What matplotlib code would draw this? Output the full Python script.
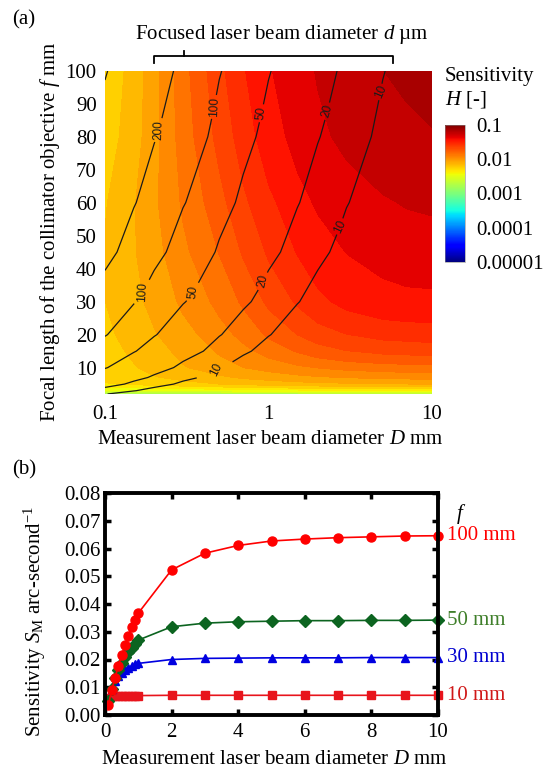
import numpy as np
import matplotlib
matplotlib.use("Agg")
import matplotlib.pyplot as plt
from matplotlib.colors import LogNorm
from matplotlib.lines import Line2D
from matplotlib.cm import ScalarMappable
from matplotlib.ticker import NullLocator

plt.rcParams["font.family"] = ["Liberation Serif", "DejaVu Serif"]
plt.rcParams["mathtext.fontset"] = "custom"
plt.rcParams["mathtext.rm"] = "Liberation Serif"
plt.rcParams["mathtext.it"] = "Liberation Serif:italic"

# ---- panel (b): sensitivity S_M (arc-second^-1) vs D for each focal length
D_mm = [0.1, 0.2, 0.3, 0.4, 0.5, 0.6, 0.7, 0.8, 0.9, 1.0,
        2, 3, 4, 5, 6, 7, 8, 9, 10]
S_10 = [0.0060, 0.0067, 0.0069, 0.0070, 0.0070, 0.0070, 0.0070, 0.0070, 0.0070, 0.0070,
        0.0071, 0.0071, 0.0071, 0.0071, 0.0071, 0.0071, 0.0071, 0.0071, 0.0071]
S_30 = [0.0055, 0.0095, 0.0122, 0.0140, 0.0153, 0.0163, 0.0171, 0.0177, 0.0182, 0.0186,
        0.0200, 0.0204, 0.0205, 0.0206, 0.0206, 0.0206, 0.0207, 0.0207, 0.0207]
S_50 = [0.0050, 0.0095, 0.0132, 0.0163, 0.0188, 0.0210, 0.0228, 0.0243, 0.0257, 0.0270,
        0.0318, 0.0331, 0.0336, 0.0338, 0.0340, 0.0340, 0.0341, 0.0341, 0.0342]
S_100 = [0.0035, 0.0090, 0.0133, 0.0177, 0.0215, 0.0252, 0.0286, 0.0318, 0.0343, 0.0367,
         0.0523, 0.0583, 0.0611, 0.0627, 0.0634, 0.0639, 0.0642, 0.0645, 0.0646]

# ---- panel (a): map grid
D_map = [0.1, 0.15, 0.2, 0.3, 0.5, 0.7, 1, 1.5, 2, 3, 5, 7, 10]
f_map = [2, 3, 5, 7, 10, 15, 20, 30, 45, 60, 80, 100]

# sensitivity H [-], one row per focal length
H_f2 = [0.0012, 0.0012, 0.0013, 0.0013, 0.0013, 0.0013, 0.0013, 0.0013, 0.0013, 0.0013, 0.0013, 0.0013, 0.0013]
H_f3 = [0.0030, 0.0030, 0.0031, 0.0032, 0.0033, 0.0034, 0.0035, 0.0036, 0.0036, 0.0037, 0.0037, 0.0038, 0.0038]
H_f5 = [0.0049, 0.0052, 0.0055, 0.0058, 0.0063, 0.0066, 0.0069, 0.0072, 0.0074, 0.0076, 0.0078, 0.0079, 0.0080]
H_f7 = [0.0054, 0.0058, 0.0062, 0.0068, 0.0076, 0.0082, 0.0087, 0.0093, 0.0097, 0.0101, 0.0104, 0.0106, 0.0107]
H_f10 = [0.0057, 0.0062, 0.0068, 0.0078, 0.0091, 0.0100, 0.0109, 0.0120, 0.0127, 0.0135, 0.0141, 0.0144, 0.0146]
H_f15 = [0.0058, 0.0066, 0.0073, 0.0085, 0.0103, 0.0118, 0.0138, 0.0162, 0.0180, 0.0198, 0.0212, 0.0216, 0.0220]
H_f20 = [0.0060, 0.0070, 0.0078, 0.0092, 0.0115, 0.0135, 0.0165, 0.0200, 0.0225, 0.0250, 0.0270, 0.0275, 0.0280]
H_f30 = [0.0063, 0.0075, 0.0085, 0.0105, 0.0135, 0.0165, 0.0210, 0.0260, 0.0300, 0.0340, 0.0370, 0.0380, 0.0380]
H_f45 = [0.0064, 0.0078, 0.0092, 0.0120, 0.0160, 0.0205, 0.0260, 0.0320, 0.0360, 0.0400, 0.0430, 0.0440, 0.0450]
H_f60 = [0.0062, 0.0078, 0.0096, 0.0130, 0.0185, 0.0240, 0.0300, 0.0370, 0.0410, 0.0450, 0.0490, 0.0510, 0.0520]
H_f80 = [0.0056, 0.0072, 0.0092, 0.0140, 0.0215, 0.0280, 0.0360, 0.0430, 0.0480, 0.0530, 0.0580, 0.0600, 0.0620]
H_f100 = [0.0052, 0.0070, 0.0091, 0.0145, 0.0236, 0.0310, 0.0390, 0.0460, 0.0510, 0.0570, 0.0630, 0.0660, 0.0700]
H_map = [H_f2, H_f3, H_f5, H_f7, H_f10, H_f15, H_f20, H_f30, H_f45, H_f60, H_f80, H_f100]

# focused beam diameter d (um) on the same grid
d_f2 = [10.3, 6.88, 5.16, 3.44, 2.06, 1.47, 1.03, 0.69, 0.52, 0.34, 0.21, 0.15, 0.10]
d_f3 = [15.5, 10.3, 7.74, 5.16, 3.10, 2.21, 1.55, 1.03, 0.77, 0.52, 0.31, 0.22, 0.15]
d_f5 = [25.8, 17.2, 12.9, 8.60, 5.16, 3.69, 2.58, 1.72, 1.29, 0.86, 0.52, 0.37, 0.26]
d_f7 = [36.1, 24.1, 18.1, 12.0, 7.22, 5.16, 3.61, 2.41, 1.81, 1.20, 0.72, 0.52, 0.36]
d_f10 = [51.6, 34.4, 25.8, 17.2, 10.3, 7.37, 5.16, 3.44, 2.58, 1.72, 1.03, 0.74, 0.52]
d_f15 = [77.4, 51.6, 38.7, 25.8, 15.5, 11.1, 7.74, 5.16, 3.87, 2.58, 1.55, 1.11, 0.77]
d_f20 = [103, 68.8, 51.6, 34.4, 20.6, 14.7, 10.3, 6.88, 5.16, 3.44, 2.06, 1.47, 1.03]
d_f30 = [155, 103, 77.4, 51.6, 31.0, 22.1, 15.5, 10.3, 7.74, 5.16, 3.10, 2.21, 1.55]
d_f45 = [232, 155, 116, 77.4, 46.4, 33.2, 23.2, 15.5, 11.6, 7.74, 4.64, 3.32, 2.32]
d_f60 = [310, 206, 155, 103, 61.9, 44.2, 31.0, 20.6, 15.5, 10.3, 6.19, 4.42, 3.10]
d_f80 = [413, 275, 206, 138, 82.6, 59.0, 41.3, 27.5, 20.6, 13.8, 8.26, 5.90, 4.13]
d_f100 = [516, 344, 258, 172, 103, 73.7, 51.6, 34.4, 25.8, 17.2, 10.3, 7.37, 5.16]
d_map = [d_f2, d_f3, d_f5, d_f7, d_f10, d_f15, d_f20, d_f30, d_f45, d_f60, d_f80, d_f100]
d_levels = [10, 20, 50, 100, 200, 500]

cbar_ticks = [1e-5, 1e-4, 1e-3, 1e-2, 1e-1]
cbar_labels = ["0.00001", "0.0001", "0.001", "0.01", "0.1"]

W, H = 547, 770
fig = plt.figure(figsize=(W / 100, H / 100), dpi=100)


def fx(px):
    return px / W


def fy(py):
    return 1 - py / H


# ---------------- panel (a) ----------------
ax1 = fig.add_axes([fx(105), fy(394), fx(432) - fx(105), fy(70.7) - fy(394)])
norm = LogNorm(vmin=1e-5, vmax=1e-1)
ax1.contourf(D_map, f_map, np.array(H_map), levels=np.logspace(-5, -1, 41),
             norm=norm, cmap="jet")
cs = ax1.contour(D_map, f_map, np.log10(np.array(d_map)), levels=np.log10(d_levels),
                 colors="#1a1a1a", linewidths=0.9)
label_pos = [(0.228, 82), (0.51, 89), (1.0, 87), (2.55, 87), (5.2, 92),
             (0.195, 33), (0.36, 33), (1.0, 36), (2.9, 52), (0.55, 9)]
labels = ax1.clabel(cs, inline=True, fontsize=8.5, manual=label_pos,
                    fmt=lambda v: f"{10 ** v:.0f}", inline_spacing=3)
for t in labels:
    t.set_fontfamily("Liberation Sans")

ax1.set_xscale("log")
ax1.set_xlim(0.1, 10)
ax1.set_ylim(2, 100)
ax1.set_xticks([0.1, 1, 10])
ax1.set_xticklabels(["0.1", "1", "10"])
ax1.xaxis.set_minor_locator(NullLocator())
ax1.set_yticks([10, 20, 30, 40, 50, 60, 70, 80, 90, 100])
ax1.tick_params(length=0, labelsize=15, pad=6)
ax1.tick_params(axis="x", pad=8)
for s in ax1.spines.values():
    s.set_visible(False)
ax1.set_xlabel("Measurement laser beam diameter $D$ mm", fontsize=15)
ax1.set_ylabel("Focal length of the collimator objective $f$ mm", fontsize=15)
ax1.xaxis.set_label_coords(0.505, -0.111)
ax1.yaxis.set_label_coords(-0.13, 0.5)

cax = fig.add_axes([fx(445), fy(262), fx(465) - fx(445), fy(125) - fy(262)])
cb = fig.colorbar(ScalarMappable(norm=norm, cmap="jet"), cax=cax)
cb.set_ticks(cbar_ticks)
cb.set_ticklabels(cbar_labels)
cax.yaxis.set_minor_locator(NullLocator())
cax.tick_params(length=0, labelsize=15, pad=8)
cb.outline.set_linewidth(0.4)
cb.outline.set_edgecolor("#888888")
fig.text(fx(445), fy(77), "Sensitivity", fontsize=15, va="center", ha="left")
fig.text(fx(445), fy(99), "$H$ [-]", fontsize=15, va="center", ha="left")

fig.text(fx(282), fy(35), "Focused laser beam diameter $d$ µm", fontsize=15,
         ha="center", va="center")
bx = [fx(154), fx(154), fx(393), fx(393)]
by = [fy(63), fy(56), fy(56), fy(63)]
fig.add_artist(Line2D(bx, by, color="k", lw=1.3, transform=fig.transFigure))
fig.add_artist(Line2D([fx(184), fx(184)], [fy(56), fy(51)], color="k", lw=1.3,
                      transform=fig.transFigure))
fig.text(fx(12), fy(20), "(a)", fontsize=15, ha="left", va="center")

# ---------------- panel (b) ----------------
ax2 = fig.add_axes([fx(105), fy(715), fx(438) - fx(105), fy(493) - fy(715)])
series = [
    (S_10, "s", "#e8141c", 5.5, "10 mm", "#d01818"),
    (S_30, "^", "#0000e0", 6.0, "30 mm", "#0000d0"),
    (S_50, "D", "#0c6420", 6.0, "50 mm", "#3f7f2a"),
    (S_100, "o", "#ff0000", 6.5, "100 mm", "#ff0000"),
]
for vals, mk, col, ms, name, lcol in series:
    ax2.plot(D_mm, vals, marker=mk, color=col, ms=ms, lw=1.2, clip_on=False)
    ax2.text(1.027, vals[-1], name, color=lcol, fontsize=15, va="center", ha="left",
             transform=ax2.get_yaxis_transform())
ax2.text(1.07, 0.0725, "$f$", fontsize=15, ha="center", va="center",
         transform=ax2.get_yaxis_transform())

ax2.set_xlim(0, 10)
ax2.set_ylim(0, 0.08)
ax2.set_xticks([0, 2, 4, 6, 8, 10])
ax2.set_yticks(np.arange(0, 0.081, 0.01))
ax2.set_yticklabels([f"{v:.2f}" for v in np.arange(0, 0.081, 0.01)])
ax2.tick_params(direction="in", length=4.5, width=2.5, labelsize=15,
                top=True, right=True)
ax2.tick_params(axis="x", pad=6)
ax2.tick_params(axis="y", pad=3)
for s in ax2.spines.values():
    s.set_linewidth(2.8)
ax2.set_xlabel("Measurement laser beam diameter $D$ mm", fontsize=15)
ax2.set_ylabel("Sensitivity $S_\\mathrm{M}$ arc-second$^{-1}$", fontsize=15)
ax2.xaxis.set_label_coords(0.507, -0.158)
ax2.yaxis.set_label_coords(-0.171, 0.42)
fig.text(fx(12), fy(470), "(b)", fontsize=15, ha="left", va="center")

fig.savefig("out.png", dpi=100)
